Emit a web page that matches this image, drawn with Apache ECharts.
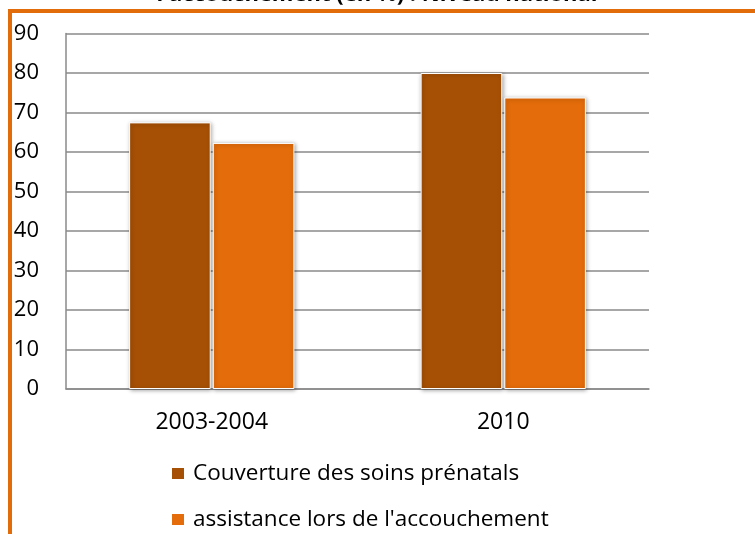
<!DOCTYPE html>
<html>
<head>
<meta charset="utf-8">
<script src="https://cdn.jsdelivr.net/npm/echarts@6/dist/echarts.min.js"></script>
<style>html,body{margin:0;padding:0;background:#fff}#c{width:755px;height:534px}</style>
</head>
<body>
<div id="c"></div>
<script>
const categories = ['2003-2004', '2010'];
const seriesNames = ['Couverture des soins prénatals', "assistance lors de l'accouchement"];
const prenatal = [67.5, 80];
const assistance = [62.3, 73.8];
const titleText = "l'accouchement (en %) : Niveau national";

const chart = echarts.init(document.getElementById('c'));
const font = '"Open Sans", sans-serif';
const colors = ['#A65005', '#E46C0A'];
const barStyle = (c) => ({
  color: c, borderColor: '#ffffff', borderWidth: 1,
  shadowColor: 'rgba(0,0,0,0.35)', shadowBlur: 4, shadowOffsetX: 1, shadowOffsetY: 1
});
const legendBase = {
  orient: 'horizontal', left: 170, itemWidth: 14, itemHeight: 13, padding: 0,
  icon: 'rect',
  textStyle: { fontFamily: font, fontSize: 22.5, color: '#000', padding: [0, 0, 0, 3] }
};
chart.setOption({
  animation: false,
  backgroundColor: '#ffffff',
  graphic: [
    { type: 'rect', shape: { x: 8, y: 9, width: 747, height: 4 }, style: { fill: '#E36C0A' } },
    { type: 'rect', shape: { x: 8, y: 9, width: 4, height: 525 }, style: { fill: '#E36C0A' } },
    { type: 'text', style: { text: titleText, x: 377, y: 5.5, textAlign: 'center', textVerticalAlign: 'bottom',
      font: 'bold 22px "Open Sans", sans-serif', fill: '#000' } }
  ],
  grid: { left: 66, right: 106, top: 33.5, bottom: 145, containLabel: false },
  legend: [
    Object.assign({}, legendBase, { top: 462, data: [seriesNames[0]] }),
    Object.assign({}, legendBase, { top: 508, data: [seriesNames[1]] })
  ],
  xAxis: {
    type: 'category', data: categories,
    axisLine: { lineStyle: { color: '#8a8a8a', width: 1.5 } },
    axisTick: { show: false },
    axisLabel: { fontFamily: font, fontSize: 23, color: '#000', margin: 22 }
  },
  yAxis: {
    type: 'value', min: 0, max: 90, interval: 10,
    axisLine: { show: true, lineStyle: { color: '#8a8a8a', width: 1.5 } },
    axisTick: { show: false },
    splitLine: { lineStyle: { color: '#8a8a8a', width: 1.5 } },
    axisLabel: { fontFamily: font, fontSize: 22, color: '#000', margin: 27 }
  },
  series: [
    { name: seriesNames[0], type: 'bar', data: prenatal, barWidth: '28%', barGap: '2.5%', itemStyle: barStyle(colors[0]) },
    { name: seriesNames[1], type: 'bar', data: assistance, barWidth: '28%', barGap: '2.5%', itemStyle: barStyle(colors[1]) }
  ]
});
</script>
</body>
</html>
